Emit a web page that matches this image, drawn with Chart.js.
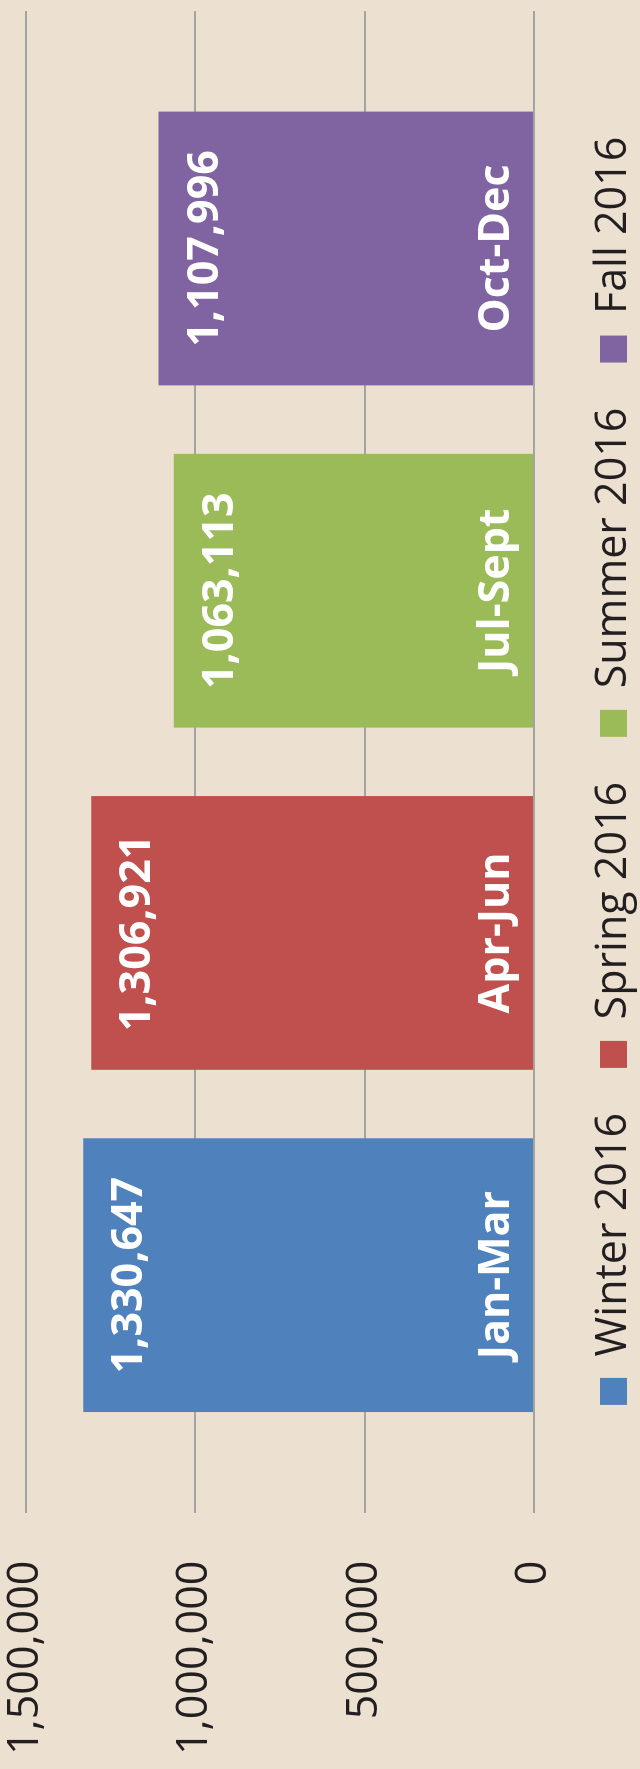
<!DOCTYPE html>
<html>
<head>
<meta charset="utf-8">
<script src="https://cdn.jsdelivr.net/npm/chart.js@4/dist/chart.umd.min.js"></script>
<style>
    html, body { margin:0; padding:0; background:#ECE1D0; overflow:hidden; }
    #wrap { position:absolute; left:0; top:0; width:1769px; height:640px; transform-origin:0 0; transform:translateY(1769px) rotate(-90deg); }
    canvas { display:block; }
</style>
</head>
<body>
<div id="wrap"><canvas id="seasonChart" width="1769" height="640"></canvas></div>
<script>
const seasons  = ['Winter 2016', 'Spring 2016', 'Summer 2016', 'Fall 2016'];
const quarters = ['Jan-Mar', 'Apr-Jun', 'Jul-Sept', 'Oct-Dec'];
const visits   = [1330647, 1306921, 1063113, 1107996];
const colors   = ['#4F81BD', '#C0504D', '#9BBB59', '#8064A2'];
const yTicks   = [0, 500000, 1000000, 1500000];

Chart.defaults.font.family = '"Open Sans", sans-serif';

// value near the top of each bar, quarter name near its base
const barText = {
    id: 'barText',
    afterDatasetsDraw(chart) {
        const ctx = chart.ctx;
        ctx.save();
        ctx.fillStyle = '#FFFFFF';
        ctx.textAlign = 'center';
        ctx.textBaseline = 'alphabetic';
        ctx.font = 'bold 43px "Open Sans", sans-serif';
        chart.data.datasets.forEach((ds, i) => {
            const bar = chart.getDatasetMeta(i).data[0];
            ctx.fillText(ds.data[0].toLocaleString('en-US'), bar.x, bar.y + 59);
            ctx.fillText(quarters[i], bar.x, bar.base - 24);
        });
        ctx.restore();
    }
};

// push the legend row a bit lower / left without touching the plot area
const legendNudge = {
    id: 'legendNudge',
    afterLayout(chart) {
        const lg = chart.legend;
        lg.top += 13; lg.bottom += 13;
        lg.left -= 9; lg.right -= 9;
    }
};

new Chart(document.getElementById('seasonChart'), {
    type: 'bar',
    data: {
        labels: [''],
        datasets: seasons.map((s, i) => ({
            label: s,
            data: [visits[i]],
            backgroundColor: colors[i],
            categoryPercentage: 0.9116,
            barPercentage: 0.8
        }))
    },
    options: {
        responsive: false,
        animation: false,
        devicePixelRatio: 1,
        layout: { padding: { left: 14, right: 11, top: 2, bottom: 8 } },
        plugins: {
            tooltip: { enabled: false },
            legend: {
                position: 'bottom',
                fullSize: false,
                labels: { boxWidth: 27, boxHeight: 27, padding: 45, color: '#231F20', font: { size: 43 } }
            }
        },
        scales: {
            x: { display: false },
            y: {
                min: yTicks[0],
                max: yTicks[yTicks.length - 1],
                afterBuildTicks: axis => { axis.ticks = yTicks.map(v => ({ value: v })); },
                border: { display: false },
                grid: { color: '#A3A3A3', lineWidth: 2, drawTicks: true, tickLength: 48, tickColor: 'transparent' },
                ticks: { padding: 0, color: '#231F20', font: { size: 43 }, callback: v => v.toLocaleString('en-US') }
            }
        }
    },
    plugins: [barText, legendNudge]
});
</script>
</body>
</html>
